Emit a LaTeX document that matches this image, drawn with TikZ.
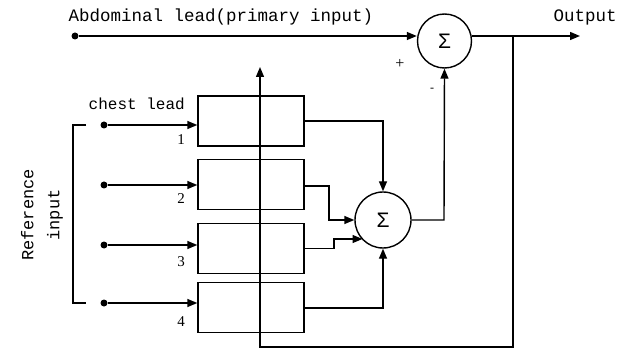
\documentclass[tikz,border=0pt]{standalone}
\usepackage{fontspec}
\setmainfont{Liberation Serif}
\newfontfamily\monof{Liberation Mono}
\newfontfamily\sigf{Liberation Sans}
\usetikzlibrary{arrows.meta}
\begin{document}
\begin{tikzpicture}[x=1pt,y=-1pt,line width=1.4pt,
  arr/.style={-{Triangle[length=10pt,width=8pt]}},
  sumnode/.style={draw,circle,inner sep=0pt,font=\sigf\fontsize{21}{21}\selectfont},
  blk/.style={draw,rectangle,minimum width=106pt,minimum height=50pt,inner sep=0pt},
  lbl/.style={font=\monof\fontsize{17.5}{18}\selectfont,inner sep=0pt},
  num/.style={font=\fontsize{15}{15}\selectfont,inner sep=0pt},
  dotc/.style={circle,fill,inner sep=0pt,minimum size=7pt}]
\useasboundingbox (0,0) rectangle (619,350);
% top part
\node[dotc] (d0) at (75,36) {};
\node[sumnode,minimum size=54pt] (s1) at (444.5,41) {Σ};
\node[lbl,anchor=west] (t0) at (68,17) {Abdominal lead(primary input)};
\draw[arr] (d0) -- (d0 -| s1.west);
\coordinate (o1) at (580,36);
\node[lbl,anchor=west] (tout) at (553,17) {Output};
\coordinate (j1) at (513,36);
\draw[arr] (s1.east |- o1) -- (o1);
\node[inner sep=0pt,font=\fontsize{16}{16}\selectfont] (plus) at (400,64) {+};
\node[inner sep=0pt,font=\fontsize{12}{12}\selectfont] (minus) at (432,90) {-};
% boxes
\node[blk] (b1) at (251,121) {};
\node[blk] (b2) at (251,184.5) {};
\node[blk] (b3) at (251,248.5) {};
\node[blk] (b4) at (251,307.5) {};
% inputs
\foreach \i/\y in {1/125,2/185,3/245,4/303}{
  \node[dotc] (d\i) at (104,\y) {};
  \draw[arr] (d\i) -- (d\i -| b\i.west);
}
\node[num] (n1) at (181,140) {1};
\node[num] (n2) at (181,199) {2};
\node[num] (n3) at (181,262) {3};
\node[num] (n4) at (181,322) {4};
\node[lbl,anchor=west,font=\monof\fontsize{16}{16}\selectfont] (tc) at (88,104) {chest lead};
% bracket
\coordinate (k1) at (86,125);
\coordinate (k2) at (86,303);
\draw (k1) -- (73,125) -- (73,303) -- (k2);
\node[lbl,rotate=90,align=center,font=\monof\fontsize{17}{26}\selectfont] (tref) at (42,215) {Reference\\input};
% lower sigma
\node[sumnode,minimum size=56pt] (s2) at (383,220) {Σ};
\draw[arr] (b1.east) -- (b1.east -| s2.north) -- (s2.north);
\draw[arr] (b2.east |- 0,186) -- (329,186) -- (329,220) -- (s2.west);
\coordinate (s2in3) at (362.5,239);
\draw[arr] (b3.east) -- (334,248.5) -- (334,239) -- (s2in3);
\draw[arr] (b4.east |- 0,308) -- (b4.east |- 0,308 -| s2.south) -- (s2.south);
% to top sigma
\draw[arr] (s2.east) -- (444,220) -- (s1.south);
% feedback
\coordinate (f1) at (513,347);
\coordinate (f2) at (260,347);
\coordinate (f3) at (260,67);
\draw[arr] (j1) -- (f1) -- (f2) -- (f3);
\end{tikzpicture}
\end{document}
